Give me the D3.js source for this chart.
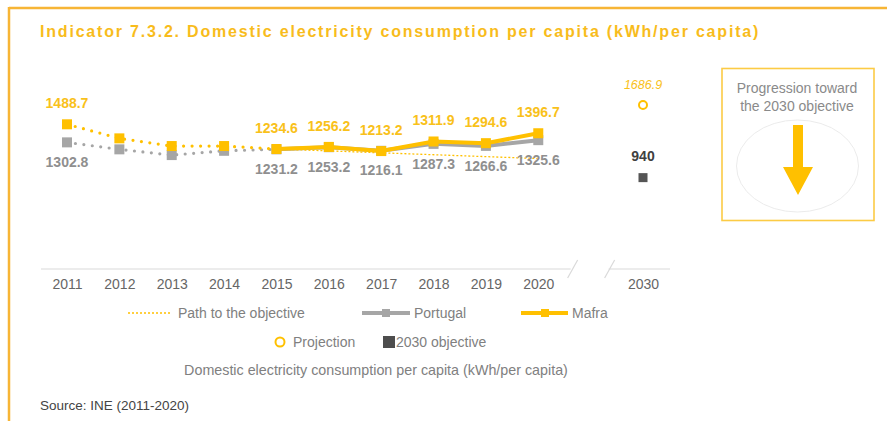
<!DOCTYPE html>
<html>
<head>
<meta charset="utf-8">
<script src="https://cdn.jsdelivr.net/npm/d3@7"></script>
<style>
  html, body { margin: 0; padding: 0; background: #fff; }
  svg { display: block; font-family: "Liberation Sans", Arial, sans-serif; }
</style>
</head>
<body>
<svg id="chart" width="887" height="421"></svg>
<script>
// ---- Data ----
const years = ["2011","2012","2013","2014","2015","2016","2017","2018","2019","2020"];
const axisCategories = ["2011","2012","2013","2014","2015","2016","2017","2018","2019","2020","gap","2030"];
const mafraValues = [1488.7, 1344, 1265, 1265, 1234.6, 1256.2, 1213.2, 1311.9, 1294.6, 1396.7];
const portugalValues = [1302.8, 1231, 1172, 1216, 1231.2, 1253.2, 1216.1, 1287.3, 1266.6, 1325.6];
const labelledYears = ["2011","2015","2016","2017","2018","2019","2020"];
const pathYears = ["2015","2020"];
const pathValues = [1234.6, 1136.4];
const projectionYear = "2030";
const projectionValue = 1686.9;
const objectiveValue = 940;
const dottedUntil = "2015";

const svg = d3.select("#chart");
const YELLOW = "#FFC000";
const LABEL_YELLOW = "#F9C11A";
const GREY = "#A6A6A6";
const GREY_LABEL = "#8F8F8F";
const DARK = "#555555";

// ---- Frame ----
svg.append("line").attr("x1", 9).attr("x2", 887).attr("y1", 8).attr("y2", 8)
  .attr("stroke", "#F7B535").attr("stroke-width", 2.5);
svg.append("line").attr("x1", 9).attr("x2", 9).attr("y1", 7).attr("y2", 421)
  .attr("stroke", "#F7B535").attr("stroke-width", 2.5);

// ---- Title ----
svg.append("text").attr("x", 40).attr("y", 37)
  .attr("fill", "#F8BC1C").attr("font-weight", "bold").attr("font-size", 16)
  .attr("letter-spacing", "1.8px")
  .text("Indicator 7.3.2. Domestic electricity consumption per capita (kWh/per capita)");

// ---- Scales ----
const x = d3.scalePoint().domain(axisCategories).range([67, 643]);
const y = d3.scaleLinear().domain([0, 2000]).range([269, 74.6]);

// ---- Axis ----
const axisG = svg.append("g").attr("transform", "translate(0,269)");
const axis = d3.axisBottom(x).tickSize(0).tickPadding(10)
  .tickFormat(d => d === "gap" ? "" : d);
axisG.call(axis);
axisG.select(".domain").remove();
axisG.selectAll("text").attr("font-size", 14).attr("fill", "#666")
  .attr("font-family", "Liberation Sans, Arial, sans-serif");
// baseline segments with break marks
const gapX = x("gap");
svg.append("line").attr("x1", 41).attr("x2", gapX - 20).attr("y1", 269).attr("y2", 269)
  .attr("stroke", "#D9D9D9").attr("stroke-width", 1.2);
svg.append("line").attr("x1", gapX + 18).attr("x2", 670).attr("y1", 269).attr("y2", 269)
  .attr("stroke", "#D9D9D9").attr("stroke-width", 1.2);
[[gapX - 23, gapX - 13], [gapX + 14, gapX + 24]].forEach(([a, b]) => {
  svg.append("line").attr("x1", a).attr("y1", 278).attr("x2", b).attr("y2", 260)
    .attr("stroke", "#D9D9D9").attr("stroke-width", 1.2);
});

// ---- Series ----
function seriesData(vals) { return years.map((yr, i) => ({ yr, v: vals[i] })); }
const line = d3.line().x(d => x(d.yr)).y(d => y(d.v));
const cut = years.indexOf(dottedUntil);

function drawSeries(vals, color) {
  const data = seriesData(vals);
  const g = svg.append("g");
  g.append("path").datum(data.slice(0, cut + 1)).attr("d", line)
    .attr("fill", "none").attr("stroke", color).attr("stroke-width", 3.2)
    .attr("stroke-linecap", "round").attr("stroke-dasharray", "0,8.5");
  g.append("path").datum(data.slice(cut)).attr("d", line)
    .attr("fill", "none").attr("stroke", color).attr("stroke-width", 4);
  g.selectAll("rect").data(data).join("rect")
    .attr("x", d => x(d.yr) - 5).attr("y", d => y(d.v) - 5)
    .attr("width", 10).attr("height", 10).attr("fill", color);
  return data;
}
const pData = drawSeries(portugalValues, GREY);

// path to objective
const pathData = pathYears.map((yr, i) => ({ yr, v: pathValues[i] }));
svg.append("path").datum(pathData).attr("d", line)
  .attr("fill", "none").attr("stroke", YELLOW).attr("stroke-width", 1.3)
  .attr("stroke-dasharray", "2,2");

const mData = drawSeries(mafraValues, YELLOW);

// labels
svg.append("g").selectAll("text").data(mData.filter(d => labelledYears.includes(d.yr))).join("text")
  .attr("x", d => x(d.yr)).attr("y", d => y(d.v) - 20)
  .attr("text-anchor", "middle").attr("dominant-baseline", "middle")
  .attr("font-size", 14).attr("font-weight", "bold").attr("fill", LABEL_YELLOW)
  .text(d => d3.format(".1f")(d.v));
svg.append("g").selectAll("text").data(pData.filter(d => labelledYears.includes(d.yr))).join("text")
  .attr("x", d => x(d.yr)).attr("y", d => y(d.v) + 21)
  .attr("text-anchor", "middle").attr("dominant-baseline", "middle")
  .attr("font-size", 14).attr("font-weight", "bold").attr("fill", GREY_LABEL)
  .text(d => d3.format(".1f")(d.v));

// projection & objective
svg.append("circle").attr("cx", x(projectionYear)).attr("cy", y(projectionValue)).attr("r", 4)
  .attr("fill", "none").attr("stroke", YELLOW).attr("stroke-width", 2);
svg.append("text").attr("x", x(projectionYear)).attr("y", y(projectionValue) - 19)
  .attr("text-anchor", "middle").attr("dominant-baseline", "middle")
  .attr("font-size", 12.5).attr("font-style", "italic").attr("fill", LABEL_YELLOW)
  .text(d3.format(".1f")(projectionValue));
svg.append("rect").attr("x", x(projectionYear) - 4.5).attr("y", y(objectiveValue) - 4.5)
  .attr("width", 9).attr("height", 9).attr("fill", DARK);
svg.append("text").attr("x", x(projectionYear)).attr("y", y(objectiveValue) - 20)
  .attr("text-anchor", "middle").attr("dominant-baseline", "middle")
  .attr("font-size", 14).attr("font-weight", "bold").attr("fill", "#404040")
  .text(objectiveValue);

// ---- Progression box ----
const box = svg.append("g");
box.append("rect").attr("x", 722).attr("y", 68.5).attr("width", 152).attr("height", 152)
  .attr("fill", "none").attr("stroke", "#FCCB45").attr("stroke-width", 1.6);
box.append("text").attr("x", 797).attr("y", 93).attr("text-anchor", "middle")
  .attr("font-size", 14).attr("fill", "#8A8A8A").text("Progression toward");
box.append("text").attr("x", 797).attr("y", 111).attr("text-anchor", "middle")
  .attr("font-size", 14).attr("fill", "#8A8A8A").text("the 2030 objective");
box.append("ellipse").attr("cx", 797.5).attr("cy", 166).attr("rx", 61).attr("ry", 46)
  .attr("fill", "none").attr("stroke", "#E6E6E6").attr("stroke-width", 0.8);
box.append("path")
  .attr("d", "M793,125 L803,125 L803,167 L813,167 L798,195 L783,167 L793,167 Z")
  .attr("fill", YELLOW);

// ---- Legend ----
const leg = svg.append("g").attr("font-size", 14).attr("fill", "#808080");
leg.append("line").attr("x1", 128).attr("x2", 172).attr("y1", 313).attr("y2", 313)
  .attr("stroke", YELLOW).attr("stroke-width", 1.3).attr("stroke-dasharray", "2,2");
leg.append("text").attr("x", 178).attr("y", 318).text("Path to the objective");
leg.append("line").attr("x1", 362).attr("x2", 410).attr("y1", 313).attr("y2", 313)
  .attr("stroke", GREY).attr("stroke-width", 4);
leg.append("rect").attr("x", 382).attr("y", 309).attr("width", 8).attr("height", 8).attr("fill", GREY);
leg.append("text").attr("x", 414).attr("y", 318).text("Portugal");
leg.append("line").attr("x1", 521).attr("x2", 568).attr("y1", 313).attr("y2", 313)
  .attr("stroke", YELLOW).attr("stroke-width", 4);
leg.append("rect").attr("x", 541).attr("y", 309).attr("width", 8).attr("height", 8).attr("fill", YELLOW);
leg.append("text").attr("x", 572).attr("y", 318).text("Mafra");
leg.append("circle").attr("cx", 280).attr("cy", 342).attr("r", 4.5)
  .attr("fill", "none").attr("stroke", YELLOW).attr("stroke-width", 2);
leg.append("text").attr("x", 293).attr("y", 347).text("Projection");
leg.append("rect").attr("x", 383).attr("y", 336).attr("width", 12).attr("height", 12).attr("fill", "#4D4D4D");
leg.append("text").attr("x", 396).attr("y", 347).text("2030 objective");
leg.append("text").attr("x", 376).attr("y", 375).attr("text-anchor", "middle")
  .attr("font-size", 14.3)
  .text("Domestic electricity consumption per capita (kWh/per capita)");

// ---- Source ----
svg.append("text").attr("x", 40).attr("y", 410).attr("font-size", 13.5).attr("fill", "#444")
  .text("Source: INE (2011-2020)");
</script>
</body>
</html>
